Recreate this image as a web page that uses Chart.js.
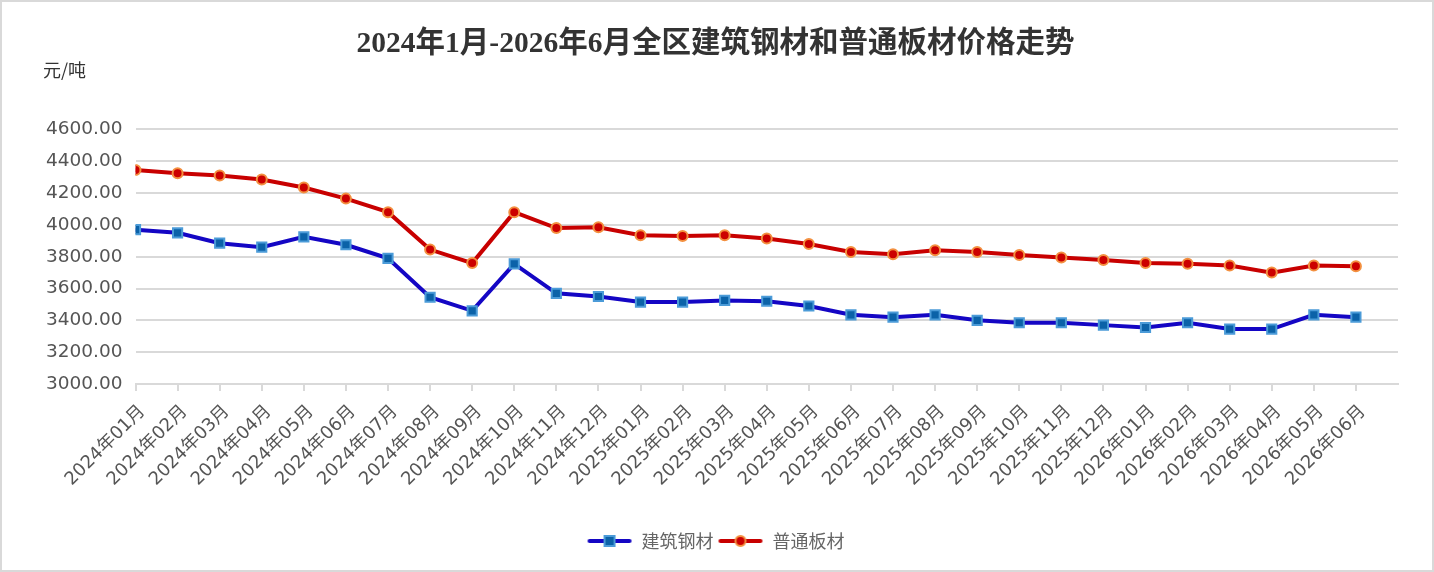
<!DOCTYPE html>
<html>
<head>
<meta charset="utf-8">
<script src="https://cdn.jsdelivr.net/npm/chart.js@4.4.1/dist/chart.umd.min.js"></script>
<style>
  html, body { margin: 0; padding: 0; background: #fff; }
  .box { width: 1434px; height: 572px; box-sizing: border-box; border: 2px solid #d9d9d9; }
</style>
</head>
<body>
<div class="box"><canvas id="line"></canvas></div>
<script>
const months = ['2024年01月','2024年02月','2024年03月','2024年04月','2024年05月','2024年06月',
  '2024年07月','2024年08月','2024年09月','2024年10月','2024年11月','2024年12月',
  '2025年01月','2025年02月','2025年03月','2025年04月','2025年05月','2025年06月',
  '2025年07月','2025年08月','2025年09月','2025年10月','2025年11月','2025年12月',
  '2026年01月','2026年02月','2026年03月','2026年04月','2026年05月','2026年06月'];

// 建筑钢材
const steel = [3970,3950,3885,3860,3925,3875,3790,3545,3460,3755,3570,3550,
  3515,3515,3525,3520,3490,3435,3420,3435,3400,3385,3385,3370,3355,3385,3345,3345,3435,3420];

// 普通板材
const plate = [4345,4325,4310,4285,4235,4165,4080,3845,3760,4080,3980,3985,
  3935,3930,3935,3915,3880,3830,3815,3840,3830,3810,3795,3780,3760,3755,3745,3700,3745,3740];

const yTicks = [3000,3200,3400,3600,3800,4000,4200,4400,4600];

// legend icon: short line with the marker in the middle
function legendIcon(lineColor, fill, border, square) {
  const c = document.createElement('canvas');
  c.width = 46; c.height = 14;
  const g = c.getContext('2d');
  g.strokeStyle = lineColor;
  g.lineWidth = 4;
  g.lineCap = 'round';
  g.beginPath(); g.moveTo(3, 7); g.lineTo(43, 7); g.stroke();
  g.fillStyle = fill;
  g.strokeStyle = border;
  g.lineWidth = 2;
  g.beginPath();
  if (square) g.rect(18, 2, 10, 10);
  else g.arc(23, 7, 5, 0, Math.PI * 2);
  g.fill(); g.stroke();
  return c;
}

const unitLabel = {
  id: 'unitLabel',
  afterDraw(chart) {
    const g = chart.ctx;
    g.save();
    g.font = '18px "Noto Sans CJK SC"';
    g.fillStyle = '#333';
    g.textBaseline = 'middle';
    g.fillText('元/吨', 41, 68);
    g.restore();
  }
};

const ctx = document.getElementById('line');
new Chart(ctx, {
  type: 'line',
  data: {
    datasets: [{
      label: '建筑钢材',
      data: months.map((m, i) => ({ x: i, y: steel[i] })),
      borderColor: '#1406c4',
      borderWidth: 4,
      pointStyle: 'rect',
      pointRadius: 6.5,
      pointBackgroundColor: '#0b62a8',
      pointBorderColor: '#4b9bd8',
      pointBorderWidth: 2,
      tension: 0
    },
    {
      label: '普通板材',
      data: months.map((m, i) => ({ x: i, y: plate[i] })),
      borderColor: '#c80000',
      borderWidth: 4,
      pointStyle: 'circle',
      pointRadius: 5,
      pointBackgroundColor: '#cc0000',
      pointBorderColor: '#f39040',
      pointBorderWidth: 2,
      tension: 0
    }]
  },
  options: {
    responsive: true,
    maintainAspectRatio: false,
    animation: false,
    layout: { padding: { left: 31, right: 34, top: 0, bottom: 10 } },
    plugins: {
      title: {
        display: true,
        text: '2024年1月-2026年6月全区建筑钢材和普通板材价格走势',
        color: '#333',
        font: { family: '"Liberation Serif", "Noto Sans CJK SC"', size: 29.5, weight: 'bold' },
        padding: { top: 25, bottom: 67 }
      },
      legend: {
        position: 'bottom',
        labels: {
          color: '#666',
          font: { family: '"Noto Sans CJK SC"', size: 18 },
          usePointStyle: true,
          pointStyleWidth: 46,
          padding: 4,
          generateLabels(chart) {
            return [
              { text: '建筑钢材', datasetIndex: 0, fontColor: '#666', lineWidth: 0,
                pointStyle: legendIcon('#1406c4', '#0b62a8', '#4b9bd8', true) },
              { text: '普通板材', datasetIndex: 1, fontColor: '#666', lineWidth: 0,
                pointStyle: legendIcon('#c80000', '#cc0000', '#f39040', false) }
            ];
          }
        }
      },
      tooltip: { enabled: false }
    },
    scales: {
      x: {
        type: 'linear',
        min: 0,
        max: months.length,
        afterFit: axis => { axis.height = 144; },
        grid: {
          drawOnChartArea: false,
          drawTicks: true,
          tickLength: 7,
          lineWidth: 2,
          color: c => (c.tick && c.tick.value < months.length) ? '#d9d9d9' : 'rgba(0,0,0,0)'
        },
        border: { display: true, color: '#d9d9d9', width: 2 },
        ticks: {
          stepSize: 1,
          autoSkip: false,
          maxRotation: 45,
          minRotation: 45,
          color: '#555',
          font: { family: '"DejaVu Sans", "Noto Sans CJK SC"', size: 18 },
          padding: 10,
          labelOffset: 7,
          callback: v => months[v] || ''
        }
      },
      y: {
        min: yTicks[0],
        max: yTicks[yTicks.length - 1],
        grid: { color: '#d9d9d9', lineWidth: 2, drawTicks: false },
        border: { display: false },
        afterBuildTicks: axis => { axis.ticks = yTicks.map(v => ({ value: v })); },
        ticks: {
          color: '#555',
          font: { family: '"DejaVu Sans"', size: 18.5 },
          padding: 13,
          callback: v => Number(v).toFixed(2)
        }
      }
    }
  },
  plugins: [unitLabel]
});
</script>
</body>
</html>
